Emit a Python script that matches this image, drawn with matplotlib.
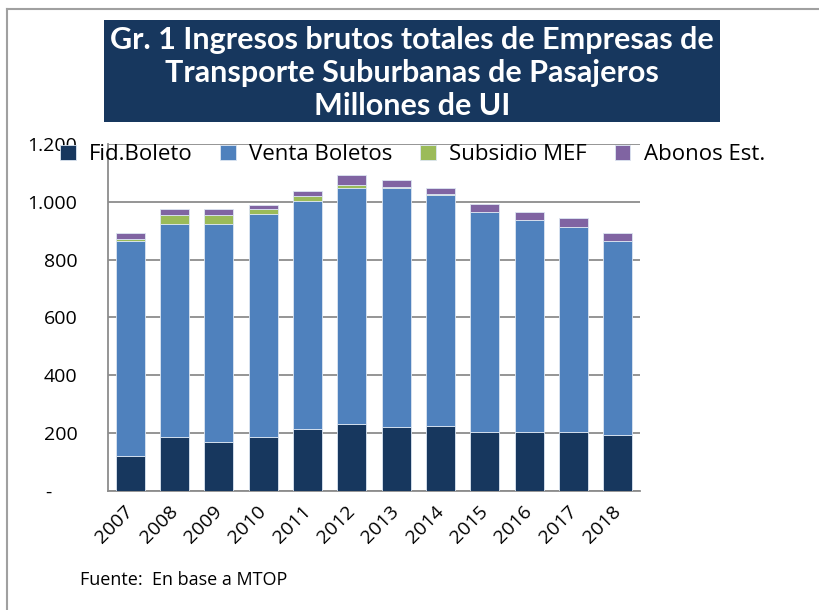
import numpy as np
import matplotlib
matplotlib.use('Agg')
from matplotlib import pyplot as plt
from matplotlib.patches import Rectangle
from matplotlib.lines import Line2D
from matplotlib import transforms

years = ['2007', '2008', '2009', '2010', '2011', '2012', '2013', '2014', '2015', '2016', '2017', '2018']
fid_boleto = [122, 188, 170, 188, 215, 233, 222, 226, 205, 205, 205, 195]
venta_boletos = [743, 737, 755, 770, 788, 815, 826, 799, 759, 732, 709, 669]
subsidio_mef = [6, 29, 29, 17, 18, 11, 2, 1, 0, 0, 0, 0]
abonos_est = [22, 22, 22, 14, 16, 33, 27, 22, 28, 27, 29, 28]

series_names = ['Fid.Boleto', 'Venta Boletos', 'Subsidio MEF', 'Abonos Est.']
colors = ['#17375E', '#4F81BD', '#9BBB59', '#8064A2']
yticks = [0, 200, 400, 600, 800, 1000, 1200]
ytick_labels = ['-     ', '200', '400', '600', '800', '1.000', '1.200']

plt.rcParams['font.family'] = ['Open Sans', 'DejaVu Sans']

fig = plt.figure(figsize=(8.19, 6.10), dpi=100)

# chart frame (only top and left show in the picture)
fig.add_artist(Line2D([7 / 819, 7 / 819], [0, 1 - 9 / 610], transform=fig.transFigure, color='#a0a0a0', lw=1.5))
fig.add_artist(Line2D([7 / 819, 1], [1 - 9 / 610, 1 - 9 / 610], transform=fig.transFigure, color='#a0a0a0', lw=1.5))

# title box
fig.add_artist(Rectangle((104 / 819, 1 - 122 / 610), (720 - 104) / 819, (122 - 20) / 610,
                         transform=fig.transFigure, facecolor='#17375E', edgecolor='none'))
fig.text(412 / 819, 1 - 73 / 610,
         'Gr. 1 Ingresos brutos totales de Empresas de\nTransporte Suburbanas de Pasajeros\nMillones de UI',
         ha='center', va='center', color='white', fontsize=22, fontweight='bold', linespacing=1.2,
         family=['Lato', 'DejaVu Sans'])

ax = fig.add_axes([108 / 819, 1 - 491 / 610, (640 - 108) / 819, (491 - 144) / 610])

x = np.arange(len(years))
bottom = np.zeros(len(years))
handles = []
for vals, name, col in zip([fid_boleto, venta_boletos, subsidio_mef, abonos_est], series_names, colors):
    b = ax.bar(x, vals, 0.65, bottom=bottom, color=col, edgecolor='#dce6f2', linewidth=0.6, label=name, zorder=3)
    handles.append(b)
    bottom += np.array(vals)

ax.set_xlim(-0.5, len(years) - 0.5)
ax.set_ylim(0, 1200)
ax.set_yticks(yticks)
ax.set_yticklabels(ytick_labels, fontsize=14)
ax.yaxis.grid(True, color='#8c8c8c', lw=1.3, zorder=0)
ax.set_axisbelow(True)
for s in ['top', 'right']:
    ax.spines[s].set_visible(False)
ax.spines['left'].set_color('#8c8c8c')
ax.spines['bottom'].set_color('#8c8c8c')
ax.spines['left'].set_linewidth(1.3)
ax.spines['bottom'].set_linewidth(1.3)
ax.tick_params(axis='y', length=0, pad=22)
ax.tick_params(axis='x', length=0, pad=8)
ax.set_xticks(x)
ax.set_xticklabels(years, rotation=45, ha='right', rotation_mode='anchor', fontsize=14)
shift = transforms.ScaledTranslation(-6 / 100, 0, fig.dpi_scale_trans)
for lab in ax.get_xticklabels():
    lab.set_transform(lab.get_transform() + shift)

fig.legend(handles, series_names, loc='center left', bbox_to_anchor=(60 / 819, 1 - 155 / 610),
           ncol=4, frameon=False, fontsize=16, handlelength=0.7, handleheight=0.7,
           handletextpad=0.6, columnspacing=1.25, borderaxespad=0, borderpad=0)

fig.text(80 / 819, 1 - 580 / 610, 'Fuente:  En base a MTOP', fontsize=13, va='center', ha='left')

fig.savefig('out.png', dpi=100)
